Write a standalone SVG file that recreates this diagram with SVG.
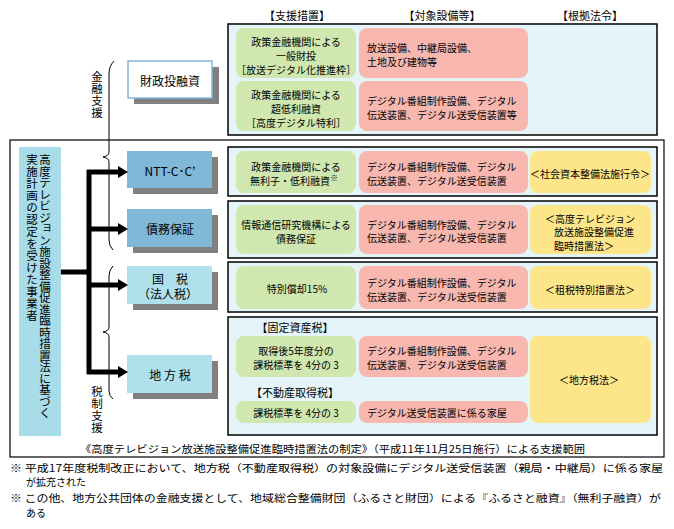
<svg xmlns="http://www.w3.org/2000/svg" width="674" height="529" viewBox="0 0 674 529">
<defs>
<style>
.t{font-family:"Noto Sans CJK JP","Noto Sans",sans-serif;font-size:10px;fill:#000;dominant-baseline:central}
.c{text-anchor:middle}
.n{font-size:12px}
.h{font-size:11px}
.panel{fill:#e4f4f8;stroke:#000;stroke-width:1.5}
.g{fill:#d0e8b0}
.p{fill:#f8b8b0}
.y{fill:#fde68a}
.dark{fill:#80b8d8}
.light{fill:#b0e0ec}
.white{fill:#fff;stroke:#80b8d8;stroke-width:1.5}
.sh{fill:#808080}
.thick{stroke:#000;stroke-width:5;fill:none}
.brace{stroke:#000;stroke-width:1;fill:none}
.v{font-size:11.5px;text-anchor:middle}
</style>
<marker id="ah" markerUnits="userSpaceOnUse" markerWidth="10" markerHeight="12" refX="0" refY="6" orient="auto">
<path d="M0,0 L10,6 L0,12 Z" fill="#000"/>
</marker>
</defs>
<rect width="674" height="529" fill="#fff"/>

<!-- column headers -->
<g id="headers">
<text class="t c h" x="297" y="15">【支援措置】</text>
<text class="t c h" x="442" y="15">【対象設備等】</text>
<text class="t c h" x="590" y="15">【根拠法令】</text>
</g>

<!-- outer frame -->
<rect x="10" y="140" width="654" height="317" fill="none" stroke="#000" stroke-width="1.2"/>

<!-- top panel -->
<g id="panel-zaito">
<rect class="panel" x="228" y="24" width="429" height="111"/>
<rect class="g" x="236" y="28" width="120" height="50" rx="8"/>
<rect class="g" x="236" y="81" width="120" height="50" rx="8"/>
<rect class="p" x="359" y="28" width="169" height="50" rx="8"/>
<rect class="p" x="359" y="81" width="169" height="50" rx="8"/>
<text class="t c" x="296" y="41">政策金融機関による</text>
<text class="t c" x="296" y="55">一般財投</text>
<text class="t c" x="296" y="69">［放送デジタル化推進枠］</text>
<text class="t c" x="296" y="94">政策金融機関による</text>
<text class="t c" x="296" y="108">超低利融資</text>
<text class="t c" x="296" y="122">［高度デジタル特利］</text>
<text class="t" x="367" y="47">放送設備、中継局設備、</text>
<text class="t" x="367" y="61">土地及び建物等</text>
<text class="t" x="367" y="100">デジタル番組制作設備、デジタル</text>
<text class="t" x="367" y="114">伝送装置、デジタル送受信装置等</text>
</g>

<!-- NTT panel -->
<g id="panel-ntt">
<rect class="panel" x="228" y="147" width="429" height="49"/>
<rect class="g" x="236" y="151" width="120" height="42" rx="8"/>
<rect class="p" x="359" y="151" width="169" height="42" rx="8"/>
<rect class="y" x="530" y="151" width="121" height="42" rx="8"/>
<text class="t c" x="296" y="166">政策金融機関による</text>
<text class="t c" x="294" y="180">無利子・低利融資<tspan font-size="8" dy="-3">※</tspan></text>
<text class="t" x="367" y="166">デジタル番組制作設備、デジタル</text>
<text class="t" x="367" y="180">伝送装置、デジタル送受信装置</text>
<text class="t c" x="590" y="173">＜社会資本整備法施行令＞</text>
</g>

<!-- saimu panel -->
<g id="panel-saimu">
<rect class="panel" x="228" y="201" width="429" height="57"/>
<rect class="g" x="236" y="205" width="120" height="49" rx="8"/>
<rect class="p" x="359" y="205" width="169" height="49" rx="8"/>
<rect class="y" x="530" y="205" width="121" height="49" rx="8"/>
<text class="t c" x="296" y="224">情報通信研究機構による</text>
<text class="t c" x="296" y="238">債務保証</text>
<text class="t" x="367" y="224">デジタル番組制作設備、デジタル</text>
<text class="t" x="367" y="237">伝送装置、デジタル送受信装置</text>
<text class="t" x="545" y="218">＜高度テレビジョン</text>
<text class="t" x="554" y="231">放送施設整備促進</text>
<text class="t" x="554" y="245">臨時措置法＞</text>
</g>

<!-- kokuzei panel -->
<g id="panel-kokuzei">
<rect class="panel" x="228" y="262" width="429" height="50"/>
<rect class="g" x="236" y="266" width="120" height="43" rx="8"/>
<rect class="p" x="359" y="266" width="169" height="43" rx="8"/>
<rect class="y" x="530" y="266" width="121" height="43" rx="8"/>
<text class="t c" x="297" y="288">特別償却15%</text>
<text class="t" x="367" y="282">デジタル番組制作設備、デジタル</text>
<text class="t" x="367" y="296">伝送装置、デジタル送受信装置</text>
<text class="t c" x="590" y="289">＜租税特別措置法＞</text>
</g>

<!-- chihouzei panel -->
<g id="panel-chihouzei">
<rect class="panel" x="228" y="317" width="429" height="118"/>
<text class="t c h" x="295" y="327">【固定資産税】</text>
<rect class="g" x="236" y="336" width="120" height="41" rx="8"/>
<rect class="p" x="359" y="336" width="169" height="41" rx="8"/>
<text class="t c h" x="295" y="392">【不動産取得税】</text>
<rect class="g" x="236" y="401" width="120" height="22" rx="8"/>
<rect class="p" x="359" y="401" width="169" height="22" rx="8"/>
<rect class="y" x="530" y="336" width="121" height="87" rx="8"/>
<text class="t c" x="296" y="350">取得後5年度分の</text>
<text class="t c" x="296" y="364">課税標準を 4分の 3</text>
<text class="t c" x="296" y="412">課税標準を 4分の 3</text>
<text class="t" x="367" y="350">デジタル番組制作設備、デジタル</text>
<text class="t" x="367" y="364">伝送装置、デジタル送受信装置</text>
<text class="t" x="367" y="412">デジタル送受信装置に係る家屋</text>
<text class="t c" x="589" y="379">＜地方税法＞</text>
</g>

<!-- left actor box -->
<g id="node-jigyousha">
<rect x="19" y="147" width="42" height="289" fill="#a8dce8"/>
<text class="t v"><tspan x="45" y="159">高</tspan><tspan x="45" y="170.5">度</tspan><tspan x="45" y="182">テ</tspan><tspan x="45" y="193.5">レ</tspan><tspan x="45" y="205">ビ</tspan><tspan x="45" y="216.5">ジ</tspan><tspan x="47" y="226">ョ</tspan><tspan x="45" y="239.5">ン</tspan><tspan x="45" y="251">施</tspan><tspan x="45" y="262.5">設</tspan><tspan x="45" y="274">整</tspan><tspan x="45" y="285.5">備</tspan><tspan x="45" y="297">促</tspan><tspan x="45" y="308.5">進</tspan><tspan x="45" y="320">臨</tspan><tspan x="45" y="331.5">時</tspan><tspan x="45" y="343">措</tspan><tspan x="45" y="354.5">置</tspan><tspan x="45" y="366">法</tspan><tspan x="45" y="377.5">に</tspan><tspan x="45" y="389">基</tspan><tspan x="45" y="400.5">づ</tspan><tspan x="45" y="412">く</tspan></text>
<text class="t v"><tspan x="32" y="159">実</tspan><tspan x="32" y="171">施</tspan><tspan x="32" y="183">計</tspan><tspan x="32" y="195">画</tspan><tspan x="32" y="207">の</tspan><tspan x="32" y="219">認</tspan><tspan x="32" y="231">定</tspan><tspan x="32" y="243">を</tspan><tspan x="32" y="255">受</tspan><tspan x="32" y="267">け</tspan><tspan x="32" y="279">た</tspan><tspan x="32" y="291">事</tspan><tspan x="32" y="303">業</tspan><tspan x="32" y="315">者</tspan></text>
</g>

<!-- nodes -->
<g id="node-zaito">
<rect class="sh" x="134" y="67" width="85" height="37"/>
<rect class="white" x="128" y="61" width="84" height="37"/>
<text class="t c n" x="170" y="80">財政投融資</text>
</g>
<g id="node-ntt">
<rect class="sh" x="133" y="157" width="85" height="37"/>
<rect class="dark" x="127" y="151" width="85" height="37"/>
<text class="t c n" x="170" y="170" font-family="Liberation Sans,sans-serif">NTT-C･C’</text>
</g>
<g id="node-saimu">
<rect class="sh" x="133" y="215" width="85" height="38"/>
<rect class="dark" x="127" y="209" width="85" height="38"/>
<text class="t c n" x="170" y="228">債務保証</text>
</g>
<g id="node-kokuzei">
<rect class="sh" x="133" y="272" width="85" height="38"/>
<rect class="light" x="127" y="266" width="85" height="38"/>
<text class="t c n" x="170" y="278">国　税</text>
<text class="t c n" x="168" y="293">（法人税）</text>
</g>
<g id="node-chihouzei">
<rect class="sh" x="133" y="361" width="85" height="38"/>
<rect class="light" x="127" y="355" width="85" height="38"/>
<text class="t c n" x="170" y="374">地 方 税</text>
</g>

<!-- connectors -->
<g id="connectors">
<path class="thick" d="M61,272 H89 M89,170 V374"/>
<line class="thick" x1="87" y1="172" x2="118" y2="172" marker-end="url(#ah)"/>
<line class="thick" x1="87" y1="229" x2="118" y2="229" marker-end="url(#ah)"/>
<line class="thick" x1="87" y1="285" x2="118" y2="285" marker-end="url(#ah)"/>
<line class="thick" x1="87" y1="372" x2="118" y2="372" marker-end="url(#ah)"/>
<path class="brace" d="M114,61 Q109,66 109,74 V152 Q109,156 103,157 Q109,158 109,162 V240 Q109,246 113,250"/>
<path class="brace" d="M113,266 Q109,270 109,276 V327 Q109,331 103,332 Q109,333 109,337 V391 Q109,396 113,399"/>
</g>

<!-- brace labels -->
<g id="labels">
<text class="t v"><tspan x="97" y="76">金</tspan><tspan x="97" y="88">融</tspan><tspan x="97" y="100">支</tspan><tspan x="97" y="112">援</tspan></text>
<text class="t v"><tspan x="97" y="391">税</tspan><tspan x="97" y="403">制</tspan><tspan x="97" y="415">支</tspan><tspan x="97" y="427">援</tspan></text>
</g>

<!-- footer -->
<g id="footer">
<text class="t" x="80" y="448" textLength="505" lengthAdjust="spacingAndGlyphs">《高度テレビジョン放送施設整備促進臨時措置法の制定》（平成11年11月25日施行）による支援範囲</text>
<text class="t" x="10" y="467" textLength="653" lengthAdjust="spacingAndGlyphs">※ 平成17年度税制改正において、地方税（不動産取得税）の対象設備にデジタル送受信装置（親局・中継局）に係る家屋</text>
<text class="t" x="26" y="481">が拡充された</text>
<text class="t" x="10" y="497" textLength="651" lengthAdjust="spacingAndGlyphs">※ この他、地方公共団体の金融支援として、地域総合整備財団（ふるさと財団）による『ふるさと融資』（無利子融資）が</text>
<text class="t" x="26" y="512">ある</text>
</g>
</svg>
